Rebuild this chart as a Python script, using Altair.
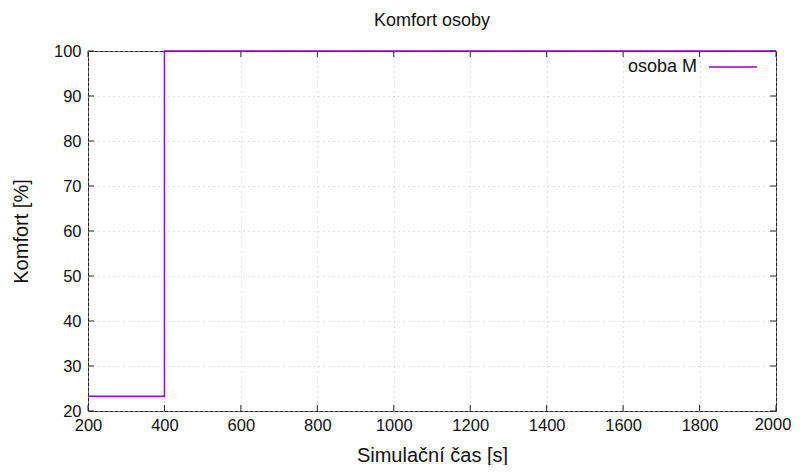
import altair as alt
import pandas as pd

# data
time_s = [200, 400, 2000]
komfort = [23.3, 100, 100]
x_ticks = [200, 400, 600, 800, 1000, 1200, 1400, 1600, 1800, 2000]
y_ticks = [20, 30, 40, 50, 60, 70, 80, 90, 100]
series_name = "osoba M"
chart_title = "Komfort osoby"
x_title = "Simulační čas [s]"
y_title = "Komfort [%]"

W, H = 688, 360
FONT = "Liberation Sans"
LINE_COLOR = "#9400d3"
TICK_COLOR = "#222222"
TXT = "#111111"
LABEL_SIZE = 16.5

df = pd.DataFrame({"t": time_s, "k": komfort})
xs = alt.Scale(domain=[200, 2000], nice=False, zero=False)
ys = alt.Scale(domain=[20, 100], nice=False, zero=False)
x_max = x_ticks[-1]

common_axis = dict(
    grid=True, gridDash=[1, 4], gridColor="#c4c4c4", gridWidth=1,
    ticks=False, domain=False, labelFont=FONT, labelFontSize=LABEL_SIZE,
    labelColor=TXT, titleFont=FONT, titleFontSize=20,
    titleFontWeight="normal", titleColor=TXT, labelFlush=False,
    format="d",
)
x_axis = alt.Axis(values=x_ticks, title=x_title, labelPadding=6,
                  labelExpr=f"datum.value == {x_max} ? '' : datum.label",
                  titleY=44, titleBaseline="middle", **common_axis)
y_axis = alt.Axis(values=y_ticks, title=y_title, labelPadding=7,
                  titleX=-67, titleY=H / 2, titleBaseline="middle",
                  titleAngle=-90, **common_axis)

line = alt.Chart(df).mark_line(
    interpolate="step-after", color=LINE_COLOR, strokeWidth=1.5
).encode(
    x=alt.X("t:Q", scale=xs, axis=x_axis),
    y=alt.Y("k:Q", scale=ys, axis=y_axis),
)

xt_df = pd.DataFrame({"t": x_ticks})
yt_df = pd.DataFrame({"k": y_ticks})
TL = 6
xt_bottom = alt.Chart(xt_df).mark_rule(color=TICK_COLOR, strokeWidth=1).encode(
    x=alt.X("t:Q", scale=xs, axis=x_axis), y=alt.value(H), y2=alt.value(H - TL))
xt_top = alt.Chart(xt_df).mark_rule(color=TICK_COLOR, strokeWidth=1).encode(
    x=alt.X("t:Q", scale=xs, axis=x_axis), y=alt.value(0), y2=alt.value(TL))
yt_left = alt.Chart(yt_df).mark_rule(color=TICK_COLOR, strokeWidth=1).encode(
    y=alt.Y("k:Q", scale=ys, axis=y_axis), x=alt.value(0), x2=alt.value(TL))
yt_right = alt.Chart(yt_df).mark_rule(color=TICK_COLOR, strokeWidth=1).encode(
    y=alt.Y("k:Q", scale=ys, axis=y_axis), x=alt.value(W), x2=alt.value(W - TL))

# last x tick label, nudged so it stays inside the page
last_df = pd.DataFrame({"t": [x_max], "lbl": [str(x_max)]})
last_label = alt.Chart(last_df).mark_text(
    align="center", baseline="top", font=FONT, fontSize=LABEL_SIZE,
    color=TXT, dx=-3
).encode(x=alt.X("t:Q", scale=xs, axis=x_axis), y=alt.value(H + 6),
         text="lbl:N")

leg_df = pd.DataFrame({"name": [series_name]})
leg_text = alt.Chart(leg_df).mark_text(
    align="right", baseline="middle", font=FONT, fontSize=18, color=TXT
).encode(text="name:N", x=alt.value(609), y=alt.value(16))
leg_line = alt.Chart(leg_df).mark_rule(color=LINE_COLOR, strokeWidth=1.5).encode(
    x=alt.value(621), x2=alt.value(669), y=alt.value(16))

title_df = pd.DataFrame({"name": [chart_title]})
title_text = alt.Chart(title_df).mark_text(
    align="center", baseline="middle", font=FONT, fontSize=18, color=TXT
).encode(text="name:N", x=alt.value(W / 2), y=alt.value(-30))

chart = alt.layer(
    xt_bottom, xt_top, yt_left, yt_right, line, last_label,
    leg_text, leg_line, title_text
).properties(
    width=W, height=H,
    autosize=alt.AutoSizeParams(type="none"),
    padding={"left": 80, "top": 43, "right": 17, "bottom": 54},
    background="white",
).configure_view(stroke="#222222", strokeWidth=1)

chart.save("out.html", embed_options={"renderer": "svg", "actions": False})
